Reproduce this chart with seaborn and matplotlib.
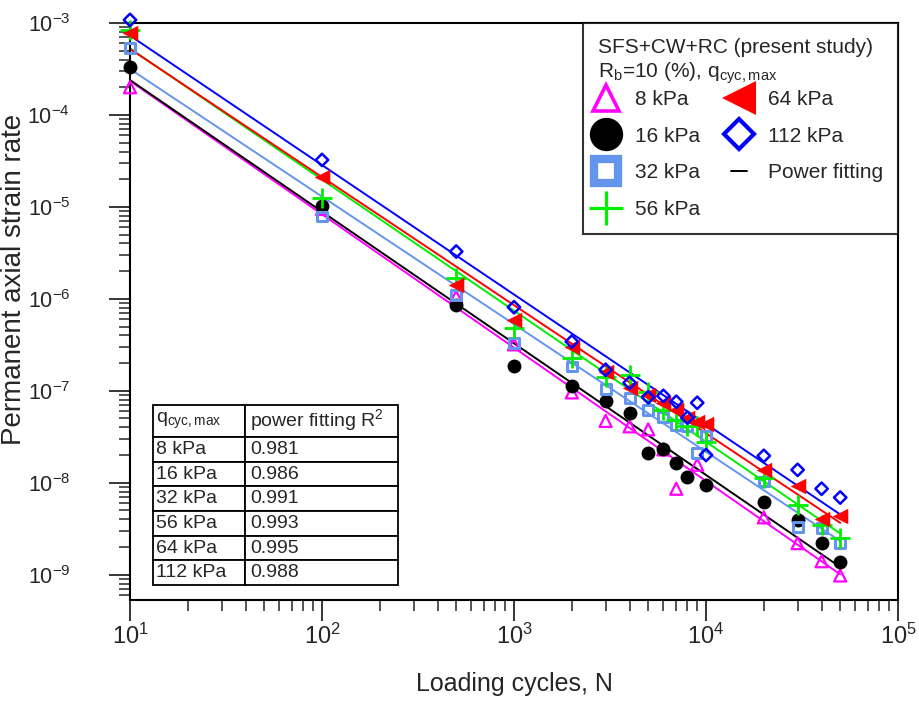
import numpy as np
import pandas as pd
import seaborn as sns
import matplotlib.pyplot as plt
from matplotlib.lines import Line2D
from matplotlib.ticker import LogLocator, NullFormatter

# loading cycles and permanent axial strain rates
cycles = [10, 100, 500, 1000, 2000, 3000, 4000, 5000, 6000, 7000,
          8000, 9000, 10000, 20000, 30000, 40000, 50000]
nan = np.nan
rate_8 = [2.0e-4, 9.5e-6, 1.05e-6, 3.2e-7, 9.6e-8, 4.7e-8, 4.1e-8, 3.8e-8,
          2.3e-8, 8.6e-9, nan, 1.57e-8, nan, 4.2e-9, 2.2e-9, 1.4e-9, 9.8e-10]
rate_16 = [3.35e-4, 1.02e-5, 8.6e-7, 1.84e-7, 1.13e-7, 7.8e-8, 5.8e-8, 2.1e-8,
           2.3e-8, 1.65e-8, 1.16e-8, nan, 9.5e-9, 6.2e-9, 3.9e-9, 2.2e-9, 1.38e-9]
rate_32 = [5.4e-4, 7.85e-6, 1.1e-6, 3.3e-7, 1.84e-7, 1.05e-7, 8.4e-8, 6.2e-8,
           5.2e-8, 4.2e-8, 4.1e-8, 2.1e-8, 3.2e-8, 1.03e-8, 3.3e-9, 3.2e-9, 2.2e-9]
rate_56 = [8.4e-4, 1.25e-5, 1.7e-6, 4.8e-7, 2.27e-7, 1.4e-7, 1.49e-7, 9.6e-8,
           6.2e-8, 4.8e-8, 4.1e-8, 4.1e-8, 2.8e-8, 1.13e-8, 5.75e-9, 3.5e-9, 2.5e-9]
rate_64 = [7.8e-4, 2.1e-5, 1.42e-6, 5.9e-7, 3.0e-7, 1.61e-7, 1.08e-7, 9.1e-8,
           7.4e-8, 6.2e-8, 5.1e-8, 4.6e-8, 4.3e-8, 1.38e-8, 9.1e-9, 4.0e-9, 4.3e-9]
rate_112 = [1.08e-3, 3.24e-5, 3.27e-6, 8.1e-7, 3.43e-7, 1.69e-7, 1.22e-7, 8.5e-8,
            8.8e-8, 7.6e-8, 5.1e-8, 7.4e-8, 2.0e-8, 1.96e-8, 1.38e-8, 8.6e-9, 6.9e-9]

loads = ['8 kPa', '16 kPa', '32 kPa', '56 kPa', '64 kPa', '112 kPa']
r_squared = ['0.981', '0.986', '0.991', '0.993', '0.995', '0.988']

rates = [rate_8, rate_16, rate_32, rate_56, rate_64, rate_112]
df = pd.concat([pd.DataFrame({'N': cycles, 'rate': r, 'load': l})
                for r, l in zip(rates, loads)], ignore_index=True)

# marker, colour, open?, scatter size, edge width, legend size, legend edge
styles = {
    '8 kPa':   ('^', '#FF00FF', True, 75, 1.6, 19, 2.6),
    '16 kPa':  ('o', 'black', False, 100, 0.0, 24, 0.0),
    '32 kPa':  ('s', '#6495ED', True, 50, 2.2, 17, 6.0),
    '56 kPa':  ('+', '#00EE00', False, 220, 2.0, 24, 2.3),
    '64 kPa':  ('<', '#FF0000', False, 125, 0.0, 25, 0.0),
    '112 kPa': ('D', '#0000FF', True, 40, 1.8, 15, 3.0),
}

sns.set_style('ticks')
plt.rcParams['font.family'] = ['Liberation Sans', 'DejaVu Sans']
plt.rcParams['mathtext.fontset'] = 'custom'
plt.rcParams['mathtext.rm'] = 'Liberation Sans'

fig = plt.figure(figsize=(9.19, 7.09), dpi=100)
ax = fig.add_axes([130 / 919, 1 - 600 / 709, 768 / 919, 577 / 709])

# power fitting lines
for load in loads:
    sub = df[(df.load == load) & df.rate.notna()]
    b, a = np.polyfit(np.log10(sub.N), np.log10(sub.rate), 1)
    fit_n = np.array([10, 50000])
    fit = pd.DataFrame({'N': fit_n, 'rate': 10 ** (a + b * np.log10(fit_n))})
    sns.lineplot(data=fit, x='N', y='rate', color=styles[load][1], lw=1.4,
                 ax=ax, legend=False)

for load in loads:
    m, c, hollow, s, lw, _, _ = styles[load]
    sub = df[df.load == load]
    sns.scatterplot(data=sub, x='N', y='rate', marker=m, s=s, color=c,
                    edgecolor=c, linewidth=lw, ax=ax, legend=False, zorder=3,
                    clip_on=False)
    if hollow:
        ax.collections[-1].set_facecolor('none')

ax.set_xscale('log')
ax.set_yscale('log')
ax.set_xlim(10, 1e5)
ax.set_ylim(5.3e-10, 1e-3)
ax.xaxis.set_minor_locator(LogLocator(base=10, subs=np.arange(2, 10)))
ax.yaxis.set_minor_locator(LogLocator(base=10, subs=np.arange(2, 10)))
ax.xaxis.set_minor_formatter(NullFormatter())
ax.yaxis.set_minor_formatter(NullFormatter())
ax.tick_params(which='major', direction='out', length=15, width=1.3,
               labelsize=17)
ax.tick_params(which='minor', direction='out', length=8, width=1.1)
ax.tick_params(axis='x', which='major', pad=2)
ax.tick_params(axis='y', which='major', pad=28, labelsize=15.5)
for sp in ax.spines.values():
    sp.set_linewidth(1.5)
    sp.set_color('black')

ax.set_xlabel('Loading cycles, N', fontsize=18)
ax.set_ylabel('Permanent axial strain rate', fontsize=20)
ax.xaxis.set_label_coords(0.5, -0.125)
ax.yaxis.set_label_coords(-0.134, 0.555)

# legend
handles = []
for load in loads:
    m, c, hollow, _, _, ms, mew = styles[load]
    handles.append(Line2D([], [], ls='', marker=m, color=c, ms=ms,
                          mec=c, mew=mew, mfc='none' if hollow else c))
handles.append(Line2D([], [], color='black', lw=1.4))
labels = loads + ['Power fitting']
leg = ax.legend(handles, labels, ncol=2, loc='upper right',
                bbox_to_anchor=(1, 1), borderaxespad=0, fontsize=15,
                title='SFS+CW+RC (present study)\n'
                      r'R$_{\mathdefault{b}}$=10 (%), q$_{\mathdefault{cyc,max}}$',
                title_fontsize=15, alignment='left', frameon=True,
                fancybox=False, handlelength=0.8, handletextpad=1.0,
                columnspacing=1.45, labelspacing=0.85, borderpad=0.7)
leg._legend_box.sep = 3
leg.get_frame().set_edgecolor('black')
leg.get_frame().set_linewidth(1.5)

# R^2 table
header = [r'q$_{\mathdefault{cyc,max}}$', r'power fitting R$^{2}$']
cell_text = [[l, r] for l, r in zip(loads, r_squared)]
tab = ax.table(cellText=cell_text, colLabels=header, cellLoc='left',
               colLoc='left', colWidths=[92, 152],
               bbox=[23 / 768, 15 / 577, 245 / 768, 180 / 577])
tab.auto_set_font_size(False)
tab.set_fontsize(14)
for (row, col), cell in tab.get_celld().items():
    cell.set_linewidth(1.3)
    cell.set_edgecolor('black')
    cell.PAD = 0.03
    if row == 0:
        cell.set_height(cell.get_height() * 1.3)

fig.savefig('out.png', dpi=100, facecolor='white')
